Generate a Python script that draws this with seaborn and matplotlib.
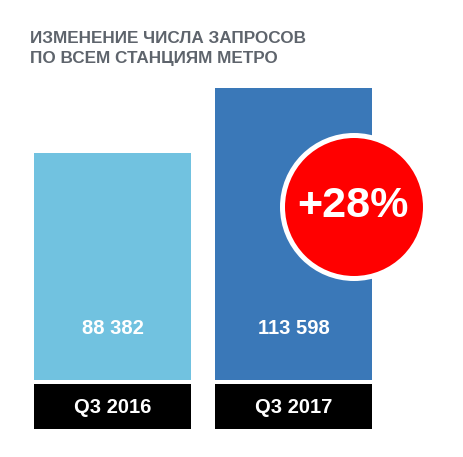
import matplotlib
matplotlib.use("Agg")
import matplotlib.pyplot as plt
import matplotlib.transforms as mtransforms
from matplotlib.patches import Rectangle, Circle
import pandas as pd
import seaborn as sns

# data
periods = ['Q3 2016', 'Q3 2017']
requests = [88382, 113598]
value_labels = ['88 382', '113 598']
change_label = '+28%'
title_lines = ['ИЗМЕНЕНИЕ ЧИСЛА ЗАПРОСОВ', 'ПО ВСЕМ СТАНЦИЯМ МЕТРО']

bar_colors = ['#71C2E0', '#3A78B8']
title_color = '#5E646C'

sns.set_theme(style='white')
plt.rcParams['font.family'] = ['Liberation Sans', 'DejaVu Sans']

W, H = 463, 457
fig = plt.figure(figsize=(W / 100, H / 100), dpi=100)

def px_axes(x0, y0, x1, y1):
    # axes from pixel box (top-left origin)
    return fig.add_axes([x0 / W, 1 - y1 / H, (x1 - x0) / W, (y1 - y0) / H])

df = pd.DataFrame({'period': periods, 'requests': requests})

# bars
ax = px_axes(0, 0, W, 380)
sns.barplot(data=df, x='period', y='requests', hue='period', palette=bar_colors,
            width=0.867, legend=False, ax=ax, saturation=1, linewidth=0)
step = 181.0
ax.set_xlim(-112.5 / step, 1 + (W - 293.5) / step)
ax.set_ylim(0, max(requests) * 380 / 292)
ax.axis('off')

blend = mtransforms.blended_transform_factory(ax.transData, ax.transAxes)
for i, lab in enumerate(value_labels):
    ax.text(i, (380 - 329) / 380, lab, transform=blend, ha='center', va='center',
            color='white', fontsize=14.5, fontweight='bold')

# black label strip under the bars
lax = px_axes(0, 384, W, 429)
lax.set_xlim(ax.get_xlim())
lax.set_ylim(0, 1)
lax.axis('off')
for i, p in enumerate(periods):
    lax.add_patch(Rectangle((i - 0.867 / 2, 0), 0.867, 1, color='black', lw=0))
    lax.text(i, 0.47, p, ha='center', va='center', color='white',
             fontsize=14.5, fontweight='bold')

# overlay for the change badge
oax = px_axes(0, 0, W, H)
oax.set_xlim(0, W)
oax.set_ylim(H, 0)
oax.axis('off')
oax.add_patch(Circle((354, 207), 71.5, facecolor='#FF0000', edgecolor='white', lw=3.6))
oax.text(353, 206, change_label, ha='center', va='center', color='white',
         fontsize=31, fontweight='bold')

# title
fig.text(30 / W, 1 - 43.3 / H, title_lines[0], ha='left', va='baseline',
         color=title_color, fontsize=12.3, fontweight='bold')
fig.text(30 / W, 1 - 63.3 / H, title_lines[1], ha='left', va='baseline',
         color=title_color, fontsize=12.3, fontweight='bold')

fig.savefig('out.png', dpi=100, facecolor='white')
